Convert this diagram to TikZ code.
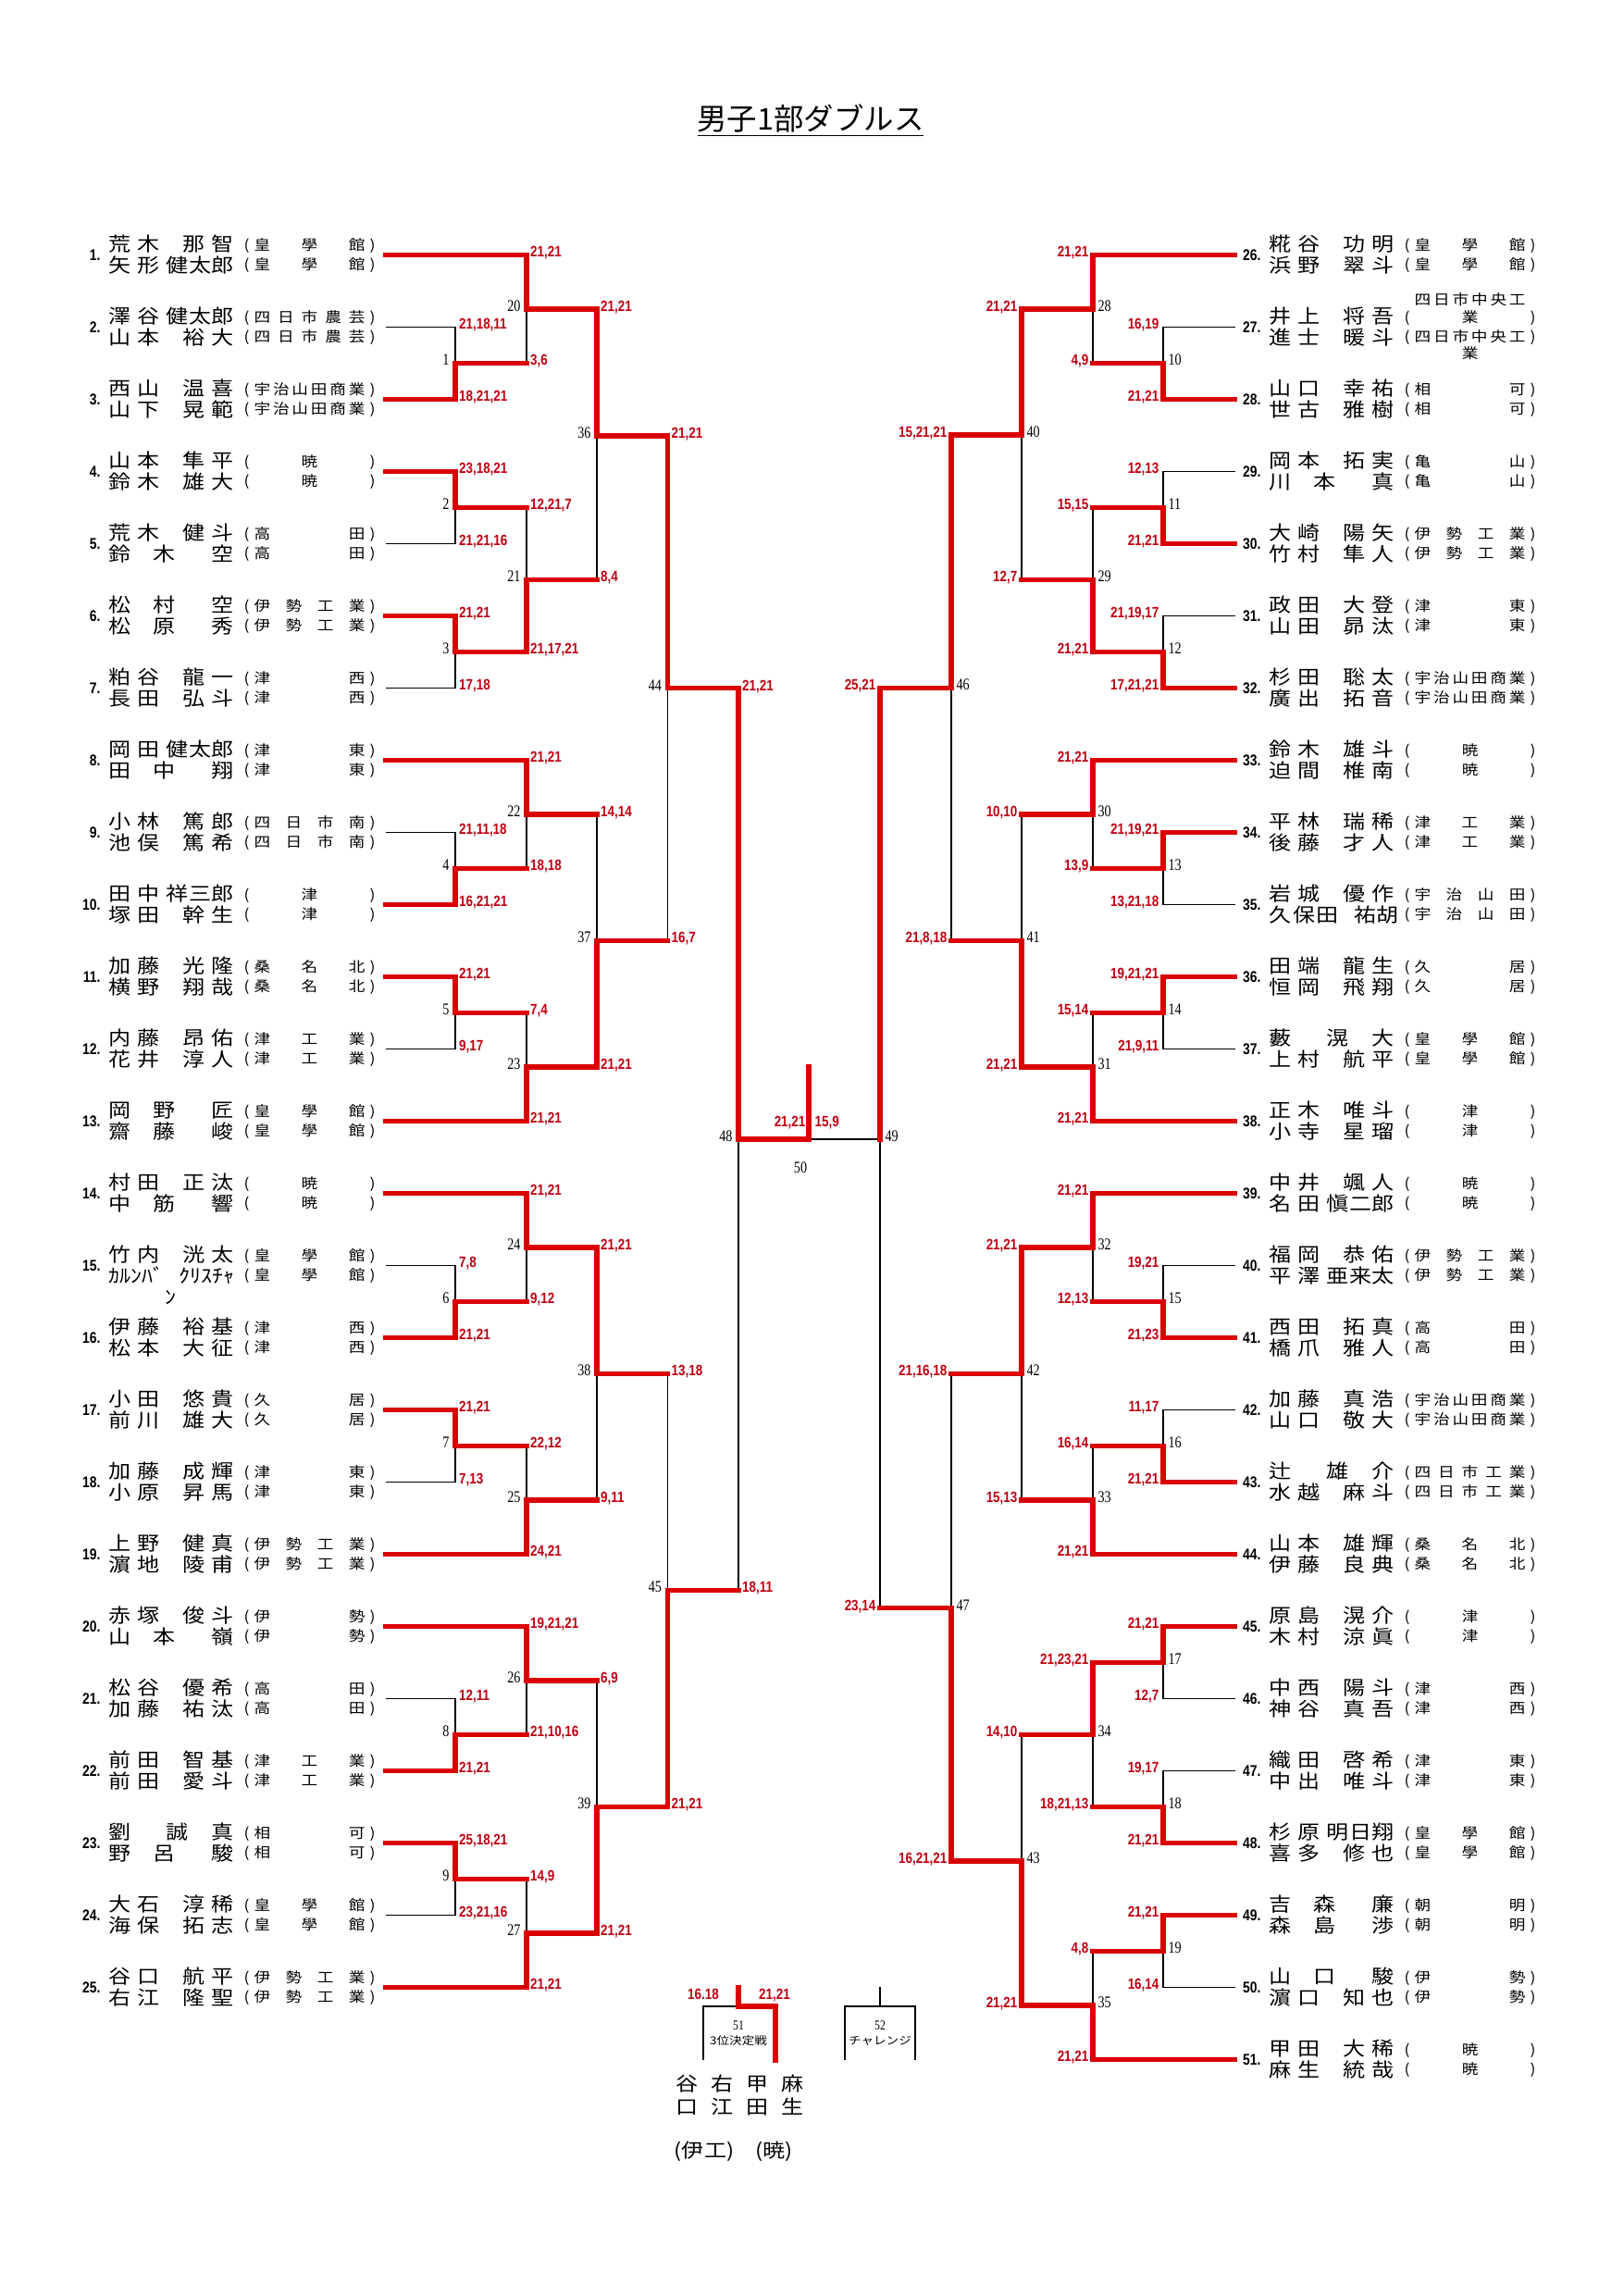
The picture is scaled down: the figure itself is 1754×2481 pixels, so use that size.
\documentclass[tikz,border=0pt]{standalone}
\usepackage{fontspec}
\usetikzlibrary{positioning}
\newfontfamily\jp[FakeStretch=1.15]{Noto Sans CJK JP}
\newfontfamily\jptitle{Noto Sans CJK JP}
\newfontfamily\scorefont[FakeStretch=0.83]{Liberation Sans}
\newfontfamily\numfont[FakeStretch=0.8]{Liberation Serif}
\definecolor{lineRed}{RGB}{218,0,0}
\definecolor{scoreRed}{RGB}{190,0,16}
\newlength\unitpx \setlength\unitpx{0.3394pt}
\pgfdeclarelayer{bg}\pgfsetlayers{bg,main}

\newcommand\dist{\spaceskip=0pt plus 1fil\relax}
\newcommand\nmA[2]{\makebox[55\unitpx][s]{\dist #1}\hspace{25\unitpx}\makebox[55\unitpx][s]{\dist #2}}
\newcommand\nmB[2]{\makebox[55\unitpx][s]{\dist #1}\hspace{7\unitpx}\makebox[73\unitpx][s]{\dist #2}}
\newcommand\nmC[2]{\makebox[72\unitpx][s]{\dist #1}\makebox[63\unitpx][r]{#2}}
\newcommand\nmD[2]{\makebox[62\unitpx][l]{#1}\makebox[73\unitpx][s]{\dist #2}}
\newcommand\nmE[2]{\makebox[75\unitpx][s]{\dist #1}\hspace{17\unitpx}\makebox[48\unitpx][s]{\dist #2}}
\newcommand\school[2][s]{(\hspace{5\unitpx}\makebox[120\unitpx][#1]{\dist #2}\hspace{5\unitpx})}

\newcommand\drawteam[6]{%
  \node[pnum] (n#1) at ({109+#2},\teamy) {#1.};
  \node[nm, yshift=4.4\unitpx] (na#1) at ({117+#2},\teamy) {#3};
  \node[nm, yshift=-18.6\unitpx] (nb#1) at ({117+#2},\teamy) {#4};
  \node[sch, yshift=4.6\unitpx] (sa#1) at ({263+#2},\teamy) {#5};
  \node[sch, yshift=-16.4\unitpx] (sb#1) at ({263+#2},\teamy) {#6};}
\newcommand\teamL[4]{\pgfmathsetmacro\teamy{275.4+78*(#1-1)}\drawteam{#1}{0}{#2}{#3}{#4}{#4}}
\newcommand\teamR[4]{\pgfmathsetmacro\teamy{275.4+78*(#1-26)}\drawteam{#1}{1254}{#2}{#3}{#4}{#4}}

\newcommand\wonline[4]{\draw[win] (#2) -| (#3); \node[#1] (r#2) at (#3 |- #2) {#4};}
\newcommand\lostline[4]{\begin{pgfonlayer}{bg}\draw[lose] (#2) -| (#3);\end{pgfonlayer}
  \node[#1] (r#2) at (#3 |- #2) {#4};}
\newcommand\lostmatch[4]{\draw[win] (#2) -- (#3 |- #2);
  \begin{pgfonlayer}{bg}\draw[lose] (#3 |- #2) -- (#3);\end{pgfonlayer}
  \node[#1] (r#2) at (#3 |- #2) {#4};}

\tikzset{
  win/.style={lineRed, line width=5.5\unitpx, line cap=rect},
  lose/.style={black, line width=1.3\unitpx},
  nm/.style={anchor=base west, inner sep=0pt, font=\jp\fontsize{7.1pt}{8pt}\selectfont},
  sch/.style={anchor=base west, inner sep=0pt, font=\jp\fontsize{5.2pt}{6pt}\selectfont},
  pnum/.style={anchor=base east, inner sep=0pt, yshift=-6.5\unitpx,
    font=\scorefont\bfseries\fontsize{5.7pt}{6pt}\selectfont},
  res/.style={inner sep=0pt, text=scoreRed, font=\scorefont\bfseries\fontsize{5.5pt}{6pt}\selectfont},
  sl/.style={res, anchor=base west, xshift=3.5\unitpx, yshift=-2.5\unitpx},
  sr/.style={res, anchor=base east, xshift=-4\unitpx, yshift=-2.5\unitpx},
  mnum/.style={inner sep=0pt, font=\numfont\fontsize{6pt}{7pt}\selectfont},
  ml/.style={mnum, anchor=base east, xshift=-6\unitpx, yshift=-2.5\unitpx},
  mr/.style={mnum, anchor=base west, xshift=5\unitpx, yshift=-2.5\unitpx},
  small/.style={inner sep=0pt, font=\jp\fontsize{4pt}{5pt}\selectfont}
}

\begin{document}
\begin{tikzpicture}[x=0.3394pt, y=-0.3394pt]
  \useasboundingbox (0,0) rectangle (1754,2481);
  \node[anchor=base, inner sep=0pt, font=\jptitle\fontsize{11pt}{12pt}\selectfont] (title) at (876,140) {\underline{男子1部ダブルス}};

  \foreach \i in {1,...,25} \coordinate (p\i) at (417,{275.4+78*(\i-1)});
  \foreach \i in {26,...,51} \coordinate (p\i) at (1334.5,{275.4+78*(\i-26)});
  \foreach \k/\cx/\cy in {1/492/392.4, 2/492/548.4, 3/492/704.4, 4/492/938.4, 5/492/1094.4,
      6/492/1406.4, 7/492/1562.4, 8/492/1874.4, 9/492/2030.4,
      20/569/333.9, 21/569/626.4, 22/569/879.9, 23/569/1152.9, 24/569/1347.9,
      25/569/1620.9, 26/569/1815.9, 27/569/2088.9,
      36/645/471, 37/645/1016.4, 38/645/1484.4, 39/645/1952.4,
      44/721.5/743.5, 45/721.5/1718.4, 48/798/1231} {
    \coordinate (m\k) at (\cx,\cy);
    \node[ml] (l\k) at (m\k) {\k};
  }
  \foreach \k/\cx/\cy in {10/1257/392.4, 11/1257/548.4, 12/1257/704.4, 13/1257/938.4,
      14/1257/1094.4, 15/1257/1406.4, 16/1257/1562.4, 17/1257/1796.4, 18/1257/1952.4, 19/1257/2108.4,
      28/1181/333.9, 29/1181/626.4, 30/1181/879.9, 31/1181/1152.9, 32/1181/1347.9,
      33/1181/1620.9, 34/1181/1874.4, 35/1181/2166.9,
      40/1104/470, 41/1104/1016.4, 42/1104/1484.4, 43/1104/2011,
      46/1028/743.4, 47/1028/1737.7, 49/951/1231} {
    \coordinate (m\k) at (\cx,\cy);
    \node[mr] (l\k) at (m\k) {\k};
  }

  \teamL{1}{\nmA{荒 木}{那 智}}{\nmB{矢 形}{健 太 郎}}{\school{皇 學 館}}
  \teamL{2}{\nmB{澤 谷}{健 太 郎}}{\nmA{山 本}{裕 大}}{\school{四 日 市 農 芸}}
  \teamL{3}{\nmA{西 山}{温 喜}}{\nmA{山 下}{晃 範}}{\school{宇 治 山 田 商 業}}
  \teamL{4}{\nmA{山 本}{隼 平}}{\nmA{鈴 木}{雄 大}}{\school[c]{暁}}
  \teamL{5}{\nmA{荒 木}{健 斗}}{\nmC{鈴 木}{空}}{\school{高 田}}
  \teamL{6}{\nmC{松 村}{空}}{\nmC{松 原}{秀}}{\school{伊 勢 工 業}}
  \teamL{7}{\nmA{粕 谷}{龍 一}}{\nmA{長 田}{弘 斗}}{\school{津 西}}
  \teamL{8}{\nmB{岡 田}{健 太 郎}}{\nmC{田 中}{翔}}{\school{津 東}}
  \teamL{9}{\nmA{小 林}{篤 郎}}{\nmA{池 俣}{篤 希}}{\school{四 日 市 南}}
  \teamL{10}{\nmB{田 中}{祥 三 郎}}{\nmA{塚 田}{幹 生}}{\school[c]{津}}
  \teamL{11}{\nmA{加 藤}{光 隆}}{\nmA{横 野}{翔 哉}}{\school{桑 名 北}}
  \teamL{12}{\nmA{内 藤}{昂 佑}}{\nmA{花 井}{淳 人}}{\school{津 工 業}}
  \teamL{13}{\nmC{岡 野}{匠}}{\nmC{齋 藤}{峻}}{\school{皇 學 館}}
  \teamL{14}{\nmA{村 田}{正 汰}}{\nmC{中 筋}{響}}{\school[c]{暁}}
  \teamL{15}{\nmA{竹 内}{洸 太}}{ｶﾙﾝﾊﾞ\hspace{16\unitpx}ｸﾘｽﾁｬ}{\school{皇 學 館}}
  \node[nm, anchor=base, yshift=-42.3\unitpx] (nc15) at (184.6,1367.4) {ﾝ};
  \teamL{16}{\nmA{伊 藤}{裕 基}}{\nmA{松 本}{大 征}}{\school{津 西}}
  \teamL{17}{\nmA{小 田}{悠 貴}}{\nmA{前 川}{雄 大}}{\school{久 居}}
  \teamL{18}{\nmA{加 藤}{成 輝}}{\nmA{小 原}{昇 馬}}{\school{津 東}}
  \teamL{19}{\nmA{上 野}{健 真}}{\nmA{濵 地}{陵 甫}}{\school{伊 勢 工 業}}
  \teamL{20}{\nmA{赤 塚}{俊 斗}}{\nmC{山 本}{嶺}}{\school{伊 勢}}
  \teamL{21}{\nmA{松 谷}{優 希}}{\nmA{加 藤}{祐 汰}}{\school{高 田}}
  \teamL{22}{\nmA{前 田}{智 基}}{\nmA{前 田}{愛 斗}}{\school{津 工 業}}
  \teamL{23}{\nmD{劉}{誠 真}}{\nmC{野 呂}{駿}}{\school{相 可}}
  \teamL{24}{\nmA{大 石}{淳 稀}}{\nmA{海 保}{拓 志}}{\school{皇 學 館}}
  \teamL{25}{\nmA{谷 口}{航 平}}{\nmA{右 江}{隆 聖}}{\school{伊 勢 工 業}}

  \teamR{26}{\nmA{糀 谷}{功 明}}{\nmA{浜 野}{翠 斗}}{\school{皇 學 館}}
  \pgfmathsetmacro\teamy{275.4+78}
  \drawteam{27}{1254}{\nmA{井 上}{将 吾}}{\nmA{進 士}{暖 斗}}{\school[c]{業}}{\school{四 日 市 中 央 工}}
  \node[sch, yshift=23.6\unitpx] (sc27) at (1528,\teamy) {\makebox[120\unitpx][s]{\dist 四 日 市 中 央 工}};
  \node[sch, yshift=-34.4\unitpx] (sd27) at (1528,\teamy) {\makebox[120\unitpx][c]{業}};
  \teamR{28}{\nmA{山 口}{幸 祐}}{\nmA{世 古}{雅 樹}}{\school{相 可}}
  \teamR{29}{\nmA{岡 本}{拓 実}}{\nmC{川 本}{真}}{\school{亀 山}}
  \teamR{30}{\nmA{大 崎}{陽 矢}}{\nmA{竹 村}{隼 人}}{\school{伊 勢 工 業}}
  \teamR{31}{\nmA{政 田}{大 登}}{\nmA{山 田}{昴 汰}}{\school{津 東}}
  \teamR{32}{\nmA{杉 田}{聡 太}}{\nmA{廣 出}{拓 音}}{\school{宇 治 山 田 商 業}}
  \teamR{33}{\nmA{鈴 木}{雄 斗}}{\nmA{迫 間}{椎 南}}{\school[c]{暁}}
  \teamR{34}{\nmA{平 林}{瑞 稀}}{\nmA{後 藤}{才 人}}{\school{津 工 業}}
  \teamR{35}{\nmA{岩 城}{優 作}}{\nmE{久 保 田}{祐 胡}}{\school{宇 治 山 田}}
  \teamR{36}{\nmA{田 端}{龍 生}}{\nmA{恒 岡}{飛 翔}}{\school{久 居}}
  \teamR{37}{\nmD{藪}{滉 大}}{\nmA{上 村}{航 平}}{\school{皇 學 館}}
  \teamR{38}{\nmA{正 木}{唯 斗}}{\nmA{小 寺}{星 瑠}}{\school[c]{津}}
  \teamR{39}{\nmA{中 井}{颯 人}}{\nmB{名 田}{愼 二 郎}}{\school[c]{暁}}
  \teamR{40}{\nmA{福 岡}{恭 佑}}{\nmB{平 澤}{亜 来 太}}{\school{伊 勢 工 業}}
  \teamR{41}{\nmA{西 田}{拓 真}}{\nmA{橋 爪}{雅 人}}{\school{高 田}}
  \teamR{42}{\nmA{加 藤}{真 浩}}{\nmA{山 口}{敬 大}}{\school{宇 治 山 田 商 業}}
  \teamR{43}{\nmD{辻}{雄 介}}{\nmA{水 越}{麻 斗}}{\school{四 日 市 工 業}}
  \teamR{44}{\nmA{山 本}{雄 輝}}{\nmA{伊 藤}{良 典}}{\school{桑 名 北}}
  \teamR{45}{\nmA{原 島}{滉 介}}{\nmA{木 村}{涼 眞}}{\school[c]{津}}
  \teamR{46}{\nmA{中 西}{陽 斗}}{\nmA{神 谷}{真 吾}}{\school{津 西}}
  \teamR{47}{\nmA{織 田}{啓 希}}{\nmA{中 出}{唯 斗}}{\school{津 東}}
  \teamR{48}{\nmB{杉 原}{明 日 翔}}{\nmA{喜 多}{修 也}}{\school{皇 學 館}}
  \teamR{49}{\nmC{吉 森}{廉}}{\nmC{森 島}{渉}}{\school{朝 明}}
  \teamR{50}{\nmC{山 口}{駿}}{\nmA{濵 口}{知 也}}{\school{伊 勢}}
  \teamR{51}{\nmA{甲 田}{大 稀}}{\nmA{麻 生}{統 哉}}{\school[c]{暁}}

  % left half
  \lostline{sl}{p2}{m1}{21,18,11}
  \wonline{sl}{p3}{m1}{18,21,21}
  \wonline{sl}{p4}{m2}{23,18,21}
  \lostline{sl}{p5}{m2}{21,21,16}
  \wonline{sl}{p6}{m3}{21,21}
  \lostline{sl}{p7}{m3}{17,18}
  \lostline{sl}{p9}{m4}{21,11,18}
  \wonline{sl}{p10}{m4}{16,21,21}
  \wonline{sl}{p11}{m5}{21,21}
  \lostline{sl}{p12}{m5}{9,17}
  \lostline{sl}{p15}{m6}{7,8}
  \wonline{sl}{p16}{m6}{21,21}
  \wonline{sl}{p17}{m7}{21,21}
  \lostline{sl}{p18}{m7}{7,13}
  \lostline{sl}{p21}{m8}{12,11}
  \wonline{sl}{p22}{m8}{21,21}
  \wonline{sl}{p23}{m9}{25,18,21}
  \lostline{sl}{p24}{m9}{23,21,16}
  \wonline{sl}{p1}{m20}{21,21}
  \lostmatch{sl}{m1}{m20}{3,6}
  \lostmatch{sl}{m2}{m21}{12,21,7}
  \wonline{sl}{m3}{m21}{21,17,21}
  \wonline{sl}{p8}{m22}{21,21}
  \lostmatch{sl}{m4}{m22}{18,18}
  \lostmatch{sl}{m5}{m23}{7,4}
  \wonline{sl}{p13}{m23}{21,21}
  \wonline{sl}{p14}{m24}{21,21}
  \lostmatch{sl}{m6}{m24}{9,12}
  \lostmatch{sl}{m7}{m25}{22,12}
  \wonline{sl}{p19}{m25}{24,21}
  \wonline{sl}{p20}{m26}{19,21,21}
  \lostmatch{sl}{m8}{m26}{21,10,16}
  \lostmatch{sl}{m9}{m27}{14,9}
  \wonline{sl}{p25}{m27}{21,21}
  \wonline{sl}{m20}{m36}{21,21}
  \lostmatch{sl}{m21}{m36}{8,4}
  \lostmatch{sl}{m22}{m37}{14,14}
  \wonline{sl}{m23}{m37}{21,21}
  \wonline{sl}{m24}{m38}{21,21}
  \lostmatch{sl}{m25}{m38}{9,11}
  \lostmatch{sl}{m26}{m39}{6,9}
  \wonline{sl}{m27}{m39}{21,21}
  \wonline{sl}{m36}{m44}{21,21}
  \lostmatch{sl}{m37}{m44}{16,7}
  \lostmatch{sl}{m38}{m45}{13,18}
  \wonline{sl}{m39}{m45}{21,21}
  \wonline{sl}{m44}{m48}{21,21}
  \lostmatch{sl}{m45}{m48}{18,11}

  % right half
  \lostline{sr}{p27}{m10}{16,19}
  \wonline{sr}{p28}{m10}{21,21}
  \lostline{sr}{p29}{m11}{12,13}
  \wonline{sr}{p30}{m11}{21,21}
  \lostline{sr}{p31}{m12}{21,19,17}
  \wonline{sr}{p32}{m12}{17,21,21}
  \wonline{sr}{p34}{m13}{21,19,21}
  \lostline{sr}{p35}{m13}{13,21,18}
  \wonline{sr}{p36}{m14}{19,21,21}
  \lostline{sr}{p37}{m14}{21,9,11}
  \lostline{sr}{p40}{m15}{19,21}
  \wonline{sr}{p41}{m15}{21,23}
  \lostline{sr}{p42}{m16}{11,17}
  \wonline{sr}{p43}{m16}{21,21}
  \wonline{sr}{p45}{m17}{21,21}
  \lostline{sr}{p46}{m17}{12,7}
  \lostline{sr}{p47}{m18}{19,17}
  \wonline{sr}{p48}{m18}{21,21}
  \wonline{sr}{p49}{m19}{21,21}
  \lostline{sr}{p50}{m19}{16,14}
  \wonline{sr}{p26}{m28}{21,21}
  \lostmatch{sr}{m10}{m28}{4,9}
  \lostmatch{sr}{m11}{m29}{15,15}
  \wonline{sr}{m12}{m29}{21,21}
  \wonline{sr}{p33}{m30}{21,21}
  \lostmatch{sr}{m13}{m30}{13,9}
  \lostmatch{sr}{m14}{m31}{15,14}
  \wonline{sr}{p38}{m31}{21,21}
  \wonline{sr}{p39}{m32}{21,21}
  \lostmatch{sr}{m15}{m32}{12,13}
  \lostmatch{sr}{m16}{m33}{16,14}
  \wonline{sr}{p44}{m33}{21,21}
  \wonline{sr}{m17}{m34}{21,23,21}
  \lostmatch{sr}{m18}{m34}{18,21,13}
  \lostmatch{sr}{m19}{m35}{4,8}
  \wonline{sr}{p51}{m35}{21,21}
  \wonline{sr}{m28}{m40}{21,21}
  \lostmatch{sr}{m29}{m40}{12,7}
  \lostmatch{sr}{m30}{m41}{10,10}
  \wonline{sr}{m31}{m41}{21,21}
  \wonline{sr}{m32}{m42}{21,21}
  \lostmatch{sr}{m33}{m42}{15,13}
  \lostmatch{sr}{m34}{m43}{14,10}
  \wonline{sr}{m35}{m43}{21,21}
  \wonline{sr}{m40}{m46}{15,21,21}
  \lostmatch{sr}{m41}{m46}{21,8,18}
  \lostmatch{sr}{m42}{m47}{21,16,18}
  \wonline{sr}{m43}{m47}{16,21,21}
  \wonline{sr}{m46}{m49}{25,21}
  \lostmatch{sr}{m47}{m49}{23,14}

  % final
  \coordinate (m50) at (874,1231);
  \coordinate (champ) at (874,1153);
  \begin{pgfonlayer}{bg}\draw[lose] (m49) -- (m50);\end{pgfonlayer}
  \draw[win] (m48) -- (m50) -- (champ);
  \node[res, anchor=base east] (r48) at (871,1217) {21,21};
  \node[res, anchor=base west] (r49) at (880,1217) {15,9};
  \node[mnum] (l50) at (865,1262) {50};

  % 3rd place and challenge
  \coordinate (t51) at (798,2148);
  \coordinate (c51) at (798,2168);
  \coordinate (bl51) at (760,2226);
  \coordinate (br51) at (838,2226);
  \begin{pgfonlayer}{bg}\draw[lose, line width=1.6\unitpx] (bl51) |- (c51);\end{pgfonlayer}
  \draw[win] (t51) -- (c51) -| (br51);
  \node[res, anchor=base] (r51a) at (760,2160) {16.18};
  \node[res, anchor=base] (r51b) at (837,2160) {21,21};
  \node[mnum, font=\numfont\fontsize{5pt}{6pt}\selectfont] (l51) at (798,2189) {51};
  \node[small] (k51) at (798,2205) {3位決定戦};
  \coordinate (t52) at (951,2147);
  \coordinate (c52) at (951,2168);
  \coordinate (bl52) at (913,2226);
  \coordinate (br52) at (989,2226);
  \draw[lose, line width=1.6\unitpx] (bl52) |- (c52) -| (br52) (t52) -- (c52);
  \node[mnum, font=\numfont\fontsize{5pt}{6pt}\selectfont] (l52) at (951,2189) {52};
  \node[small] (k52) at (951,2205) {チャレンジ};

  \node[nm] (w3a) at (730,2259.7) {\makebox[138\unitpx][s]{\dist 谷 右 甲 麻}};
  \node[nm] (w3b) at (730,2284.7) {\makebox[138\unitpx][s]{\dist 口 江 田 生}};
  \node[nm, anchor=base] (w3c) at (761,2331) {(伊工)};
  \node[nm, anchor=base] (w3d) at (836.7,2331) {(暁)};
\end{tikzpicture}
\end{document}
